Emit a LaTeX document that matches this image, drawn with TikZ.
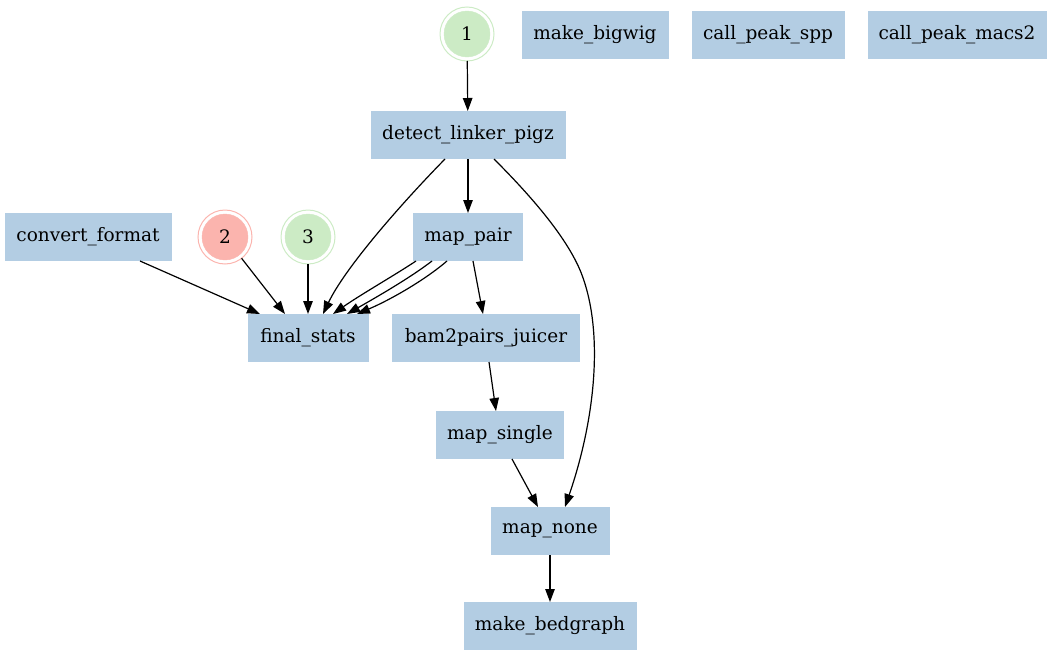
\documentclass[tikz,border=0pt]{standalone}
\usepackage{fontspec}
\setmainfont{DejaVu Serif}
\usetikzlibrary{arrows.meta}
\definecolor{boxblue}{HTML}{B3CDE3}
\definecolor{cgreen}{HTML}{CCEBC5}
\definecolor{cred}{HTML}{FBB4AE}
\tikzset{
  rule/.style={rectangle, fill=boxblue, minimum height=48pt, inner sep=0pt, outer sep=0pt, font=\fontsize{18.5}{22}\selectfont},
  dc/.style={circle, fill=#1, draw=#1, minimum size=46pt, inner sep=0pt, outer sep=4pt, font=\fontsize{18.5}{22}\selectfont},
  ring/.style={draw=#1, line width=1pt},
  edge/.style={draw=black, line width=1.2pt, -{Triangle[length=13pt,width=9.5pt]}}
}
\begin{document}
\begin{tikzpicture}[x=1pt,y=-1pt]
\useasboundingbox (0,0) rectangle (1053,656);
% nodes
\node[dc=cgreen] (c1) at (467,34) {1};
\node[dc=cred] (c2) at (225,237) {2};
\node[dc=cgreen] (c3) at (308,237) {3};
\draw[ring=cgreen] (c1.center) circle (27pt);
\draw[ring=cred] (c2.center) circle (27pt);
\draw[ring=cgreen] (c3.center) circle (27pt);

\node[rule, minimum width=147pt] (bigwig) at (595,35) {make\_bigwig};
\node[rule, minimum width=153pt] (spp) at (768,35) {call\_peak\_spp};
\node[rule, minimum width=179pt] (macs) at (957,35) {call\_peak\_macs2};
\node[rule, minimum width=195pt] (detect) at (468,135) {detect\_linker\_pigz};
\node[rule, minimum width=167pt] (convert) at (88,237) {convert\_format};
\node[rule, minimum width=110pt] (mappair) at (468,237) {map\_pair};
\node[rule, minimum width=121pt] (final) at (308,338) {final\_stats};
\node[rule, minimum width=188pt] (bam) at (486,338) {bam2pairs\_juicer};
\node[rule, minimum width=128pt] (single) at (500,435) {map\_single};
\node[rule, minimum width=119pt] (none) at (550,531) {map\_none};
\node[rule, minimum width=173pt] (bedgraph) at (550,626) {make\_bedgraph};

% edges
\draw[edge] (c1) -- (detect);
\draw[edge] (detect) -- (mappair);
\draw[edge] ([xshift=-23pt]detect.south) .. controls (400,205) and (345,268) .. ([xshift=15pt]final.north);
\draw[edge] ([xshift=26pt]detect.south) .. controls (530,195) and (565,235) .. (580,270) .. controls (605,330) and (595,420) .. ([xshift=15pt]none.north);
\draw[edge] ([xshift=52pt]convert.south) -- ([xshift=-48pt]final.north);
\draw[edge] (c2) -- ([xshift=-23pt]final.north);
\draw[edge] (c3) -- (final);
\draw[edge] ([xshift=-52pt]mappair.south) .. controls (395,275) and (360,295) .. ([xshift=25pt]final.north);
\draw[edge] ([xshift=-36pt]mappair.south) .. controls (410,278) and (375,298) .. ([xshift=39pt]final.north);
\draw[edge] ([xshift=-21pt]mappair.south) .. controls (425,280) and (390,300) .. ([xshift=49pt]final.north);
\draw[edge] ([xshift=5pt]mappair.south) -- ([xshift=-3pt]bam.north);
\draw[edge] ([xshift=3pt]bam.south) -- ([xshift=-4pt]single.north);
\draw[edge] ([xshift=12pt]single.south) -- ([xshift=-12pt]none.north);
\draw[edge] (none) -- (bedgraph);
\end{tikzpicture}
\end{document}
